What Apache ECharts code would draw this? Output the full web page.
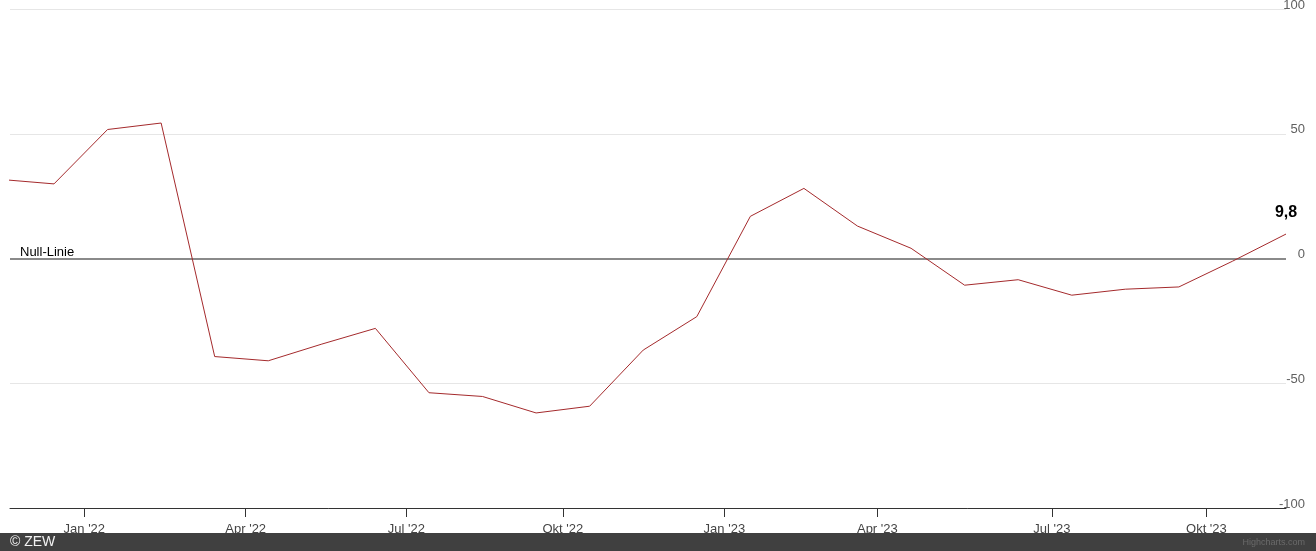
<!DOCTYPE html>
<html>
<head>
<meta charset="utf-8">
<script src="https://cdn.jsdelivr.net/npm/echarts@6/dist/echarts.min.js"></script>
<style>
html,body{margin:0;padding:0;background:#fff;}
#chart{width:1316px;height:551px;}
</style>
</head>
<body>
<div id="chart"></div>
<script>
// Monthly releases Nov 2021 .. Nov 2023 (equally spaced, ordinal axis)
const months = ["Nov 2021","Dez 2021","Jan 2022","Feb 2022","Mär 2022","Apr 2022","Mai 2022","Jun 2022","Jul 2022","Aug 2022","Sep 2022","Okt 2022","Nov 2022","Dez 2022","Jan 2023","Feb 2023","Mär 2023","Apr 2023","Mai 2023","Jun 2023","Jul 2023","Aug 2023","Sep 2023","Okt 2023","Nov 2023"];
const values = [31.7, 29.9, 51.7, 54.3, -39.3, -41.0, -34.3, -28.0, -53.8, -55.3, -61.9, -59.2, -36.7, -23.3, 16.9, 28.1, 13.0, 4.1, -10.7, -8.5, -14.7, -12.3, -11.4, -1.1, 9.8];
// x-axis ticks (month starts, interpolated between release positions)
const tickPositions = [1.566, 4.579, 7.578, 10.498, 13.515, 16.371, 19.628, 22.514];
const tickLabels = ["Jan '22", "Apr '22", "Jul '22", "Okt '22", "Jan '23", "Apr '23", "Jul '23", "Okt '23"];
const yTicks = [-100, -50, 0, 50, 100];

const FONT = "'Liberation Sans', Arial, Helvetica, sans-serif";
const lastIdx = values.length - 1;
const fmtDE = v => String(v).replace('.', ',');

const chart = echarts.init(document.getElementById('chart'), null, {renderer: 'canvas'});
chart.setOption({
  animation: false,
  backgroundColor: '#ffffff',
  textStyle: {fontFamily: FONT},
  grid: {left: 10, right: 30, top: 9, bottom: 43, containLabel: false, outerBoundsMode: 'none'},
  xAxis: {
    type: 'value',
    min: 0.1785,
    max: lastIdx,
    axisLine: {show: true, onZero: false, lineStyle: {color: '#333333', width: 1}},
    axisTick: {show: true, length: 9, lineStyle: {color: '#333333'}, customValues: tickPositions},
    axisLabel: {
      show: true,
      customValues: tickPositions,
      margin: 15,
      fontSize: 13,
      color: '#444444',
      fontFamily: FONT,
      formatter: function (v) {
        let best = 0, bd = 1e9;
        tickPositions.forEach((p, i) => { const d = Math.abs(p - v); if (d < bd) { bd = d; best = i; } });
        return tickLabels[best];
      }
    },
    splitLine: {show: false}
  },
  yAxis: {
    type: 'value',
    position: 'right',
    min: yTicks[0],
    max: yTicks[yTicks.length - 1],
    interval: 50,
    axisLine: {show: false},
    axisTick: {show: false},
    axisLabel: {
      align: 'right',
      margin: 19,
      verticalAlign: 'bottom',
      lineHeight: 8,
      fontSize: 13,
      color: '#606060',
      fontFamily: FONT
    },
    splitLine: {show: true, lineStyle: {color: '#e6e6e6', width: 1}}
  },
  series: [{
    type: 'line',
    data: values.map((v, i) => [i, v]),
    showSymbol: false,
    clip: true,
    lineStyle: {color: '#a42a2c', width: 1},
    itemStyle: {color: '#a42a2c'},
    z: 3,
    markLine: {
      silent: true,
      symbol: 'none',
      z: 2,
      data: [{yAxis: 0}],
      lineStyle: {color: '#8a8a8a', width: 2, type: 'solid'},
      label: {
        show: true,
        position: 'insideStartTop',
        formatter: 'Null-Linie',
        color: '#000000',
        fontSize: 13,
        fontFamily: FONT,
        distance: [10, 0]
      }
    },
    markPoint: {
      silent: true,
      symbol: 'circle',
      symbolSize: 1,
      itemStyle: {color: 'rgba(0,0,0,0)'},
      data: [{coord: [lastIdx, values[lastIdx]], value: values[lastIdx]}],
      label: {
        show: true,
        position: 'top',
        distance: 13,
        formatter: p => fmtDE(p.value),
        color: '#000000',
        fontWeight: 'bold',
        fontSize: 16,
        fontFamily: FONT
      }
    }
  }],
  graphic: [
    {type: 'rect', z: 100, shape: {x: 0, y: 533, width: 1316, height: 18}, style: {fill: '#404040'}},
    {type: 'text', z: 101, left: 10, top: 535, style: {text: '© ZEW', fill: '#f2f2f2', font: '14px ' + FONT}},
    {type: 'text', z: 101, right: 11, top: 538, style: {text: 'Highcharts.com', fill: '#6a6a6a', font: '9px ' + FONT}}
  ]
});
</script>
</body>
</html>
